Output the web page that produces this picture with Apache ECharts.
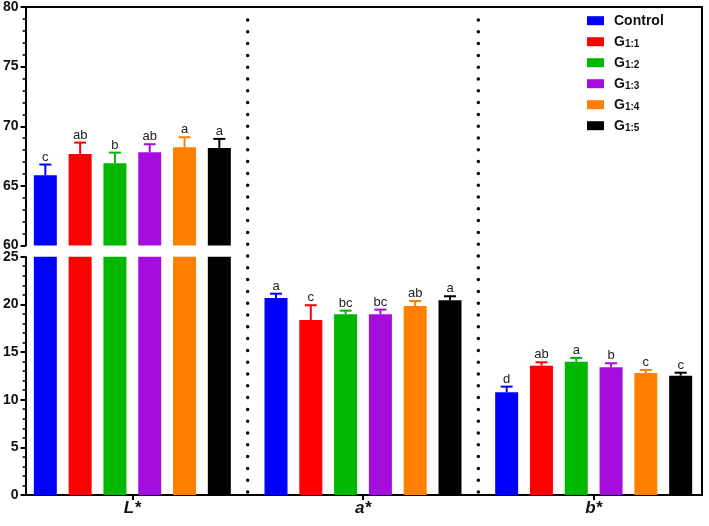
<!DOCTYPE html>
<html><head><meta charset="utf-8">
<script src="https://cdn.jsdelivr.net/npm/echarts@6/dist/echarts.min.js"></script>
<style>html,body{margin:0;padding:0;background:#fff}#c{width:709px;height:526px}</style>
</head><body><div id="c"></div>
<script>
// ---- data ----
const categories = ['L*', 'a*', 'b*'];
const seriesNames = ['Control', 'G1:1', 'G1:2', 'G1:3', 'G1:4', 'G1:5'];

const controlMean = [65.89, 20.67, 10.78];
const g11Mean = [67.68, 18.36, 13.57];
const g12Mean = [66.90, 18.96, 13.99];
const g13Mean = [67.82, 18.96, 13.40];
const g14Mean = [68.24, 19.83, 12.80];
const g15Mean = [68.18, 20.43, 12.52];

const controlErr = [0.90, 0.45, 0.59];
const g11Err = [0.95, 1.55, 0.35];
const g12Err = [0.89, 0.38, 0.39];
const g13Err = [0.67, 0.49, 0.42];
const g14Err = [0.84, 0.52, 0.32];
const g15Err = [0.76, 0.42, 0.31];

const controlLetters = ['c', 'a', 'd'];
const g11Letters = ['ab', 'c', 'ab'];
const g12Letters = ['b', 'bc', 'a'];
const g13Letters = ['ab', 'bc', 'b'];
const g14Letters = ['a', 'ab', 'c'];
const g15Letters = ['a', 'a', 'c'];

const upperRange = [60, 80];   // upper (broken) axis segment
const lowerRange = [0, 25];    // lower axis segment
const tickStep = 5;
const dividerPositions = [1, 2]; // category boundaries

// ---- assembly ----
const means = [controlMean, g11Mean, g12Mean, g13Mean, g14Mean, g15Mean];
const errs = [controlErr, g11Err, g12Err, g13Err, g14Err, g15Err];
const letters = [controlLetters, g11Letters, g12Letters, g13Letters, g14Letters, g15Letters];
const colors = ['#0000FF', '#FF0000', '#00B800', '#A40DDB', '#FF8000', '#000000'];

const FONT = 'Arial, "Liberation Sans", sans-serif';
const BAR_W = 23, GAP = 0.513, PITCH = BAR_W * (1 + GAP);

const chart = echarts.init(document.getElementById('c'), null, { renderer: 'canvas' });

function visibleValueAxis(gridIndex, range) {
  return {
    type: 'value', gridIndex, min: range[0], max: range[1], interval: tickStep,
    axisLine: { show: true, lineStyle: { color: '#000', width: 2 } },
    axisTick: { show: true, length: 5, lineStyle: { color: '#000', width: 2 } },
    minorTick: { show: true, splitNumber: 5, length: 3, lineStyle: { color: '#000', width: 1.5 } },
    axisLabel: { fontFamily: FONT, fontWeight: 'bold', fontSize: 14, color: '#111', margin: 7 },
    splitLine: { show: false }
  };
}
function hiddenValueAxis(gridIndex, range) {
  return { type: 'value', gridIndex, min: range[0], max: range[1], show: false, splitLine: { show: false } };
}

function errorSeries(axisIdx, range) {
  const data = [];
  means.forEach((arr, si) => arr.forEach((v, ci) => data.push([ci, v, errs[si][ci], si])));
  return {
    type: 'custom', xAxisIndex: axisIdx, yAxisIndex: axisIdx, z: 5, silent: true,
    data,
    renderItem(params, api) {
      const ci = api.value(0), v = api.value(1), e = api.value(2), si = api.value(3);
      if (v < range[0] || v + e > range[1]) return null;
      const base = api.coord([ci, v]);
      const top = api.coord([ci, v + e]);
      const x = base[0] + (si - 2.5) * PITCH;
      return {
        type: 'group',
        children: [
          { type: 'line', shape: { x1: x, y1: base[1], x2: x, y2: top[1] }, style: { stroke: colors[si], lineWidth: 2 } },
          { type: 'line', shape: { x1: x - 6, y1: top[1], x2: x + 6, y2: top[1] }, style: { stroke: colors[si], lineWidth: 2 } },
          { type: 'text', x: x, y: top[1] - 1, style: { text: letters[si][ci], align: 'center', verticalAlign: 'bottom', fontSize: 13, fontFamily: FONT, fill: '#222' } }
        ]
      };
    }
  };
}

const series = [];
[0, 1].forEach(ai => {
  seriesNames.forEach((name, si) => {
    series.push({
      type: 'bar', name, xAxisIndex: ai, yAxisIndex: ai,
      data: means[si], barWidth: BAR_W, barGap: (GAP * 100) + '%',
      itemStyle: { color: colors[si] }, clip: true, silent: true
    });
  });
});
series.push(errorSeries(0, upperRange));
series.push(errorSeries(1, lowerRange));
series.push({
  type: 'custom', xAxisIndex: 4, yAxisIndex: 3, silent: true, z: 1,
  data: dividerPositions.map(p => [p, 0]),
  renderItem(params, api) {
    const x = api.coord([api.value(0), 0])[0];
    const cs = params.coordSys;
    return {
      type: 'line',
      shape: { x1: x, y1: cs.y + cs.height - 3, x2: x, y2: cs.y + 4 },
      style: { stroke: '#000', lineWidth: 3.5, lineDash: [0, 11.8], lineCap: 'round' }
    };
  }
});

const hiddenCat = gi => ({ type: 'category', gridIndex: gi, data: categories, show: false });
const frameLine = { show: true, onZero: false, lineStyle: { color: '#000', width: 2 } };

const option = {
  animation: false,
  backgroundColor: '#fff',
  grid: [
    { left: 17, width: 695, top: 7, height: 238.5 },     // 0 upper bars
    { left: 17, width: 695, top: 256.7, height: 238.3 }, // 1 lower bars
    { left: 23, right: 7, top: 7, bottom: 31 },          // 2 frame
    { left: 17, width: 695, top: 7, bottom: 31 },        // 3 dividers
    { left: 23, right: 7, top: 7, height: 238.5 },       // 4 upper y axis
    { left: 23, right: 7, top: 256.7, height: 238.3 }    // 5 lower y axis
  ],
  xAxis: [
    { type: 'category', gridIndex: 0, data: categories, show: false },
    { type: 'category', gridIndex: 1, data: categories,
      axisLine: { show: false },
      axisTick: { show: true, alignWithLabel: true, length: 5, lineStyle: { color: '#000', width: 2 } },
      axisLabel: { fontFamily: FONT, fontWeight: 'bold', fontStyle: 'italic', fontSize: 17, color: '#111', margin: 5 } },
    { type: 'value', gridIndex: 2, position: 'top', min: 0, max: 1,
      axisLine: frameLine, axisTick: { show: false }, axisLabel: { show: false }, splitLine: { show: false } },
    { type: 'value', gridIndex: 2, position: 'bottom', min: 0, max: 1,
      axisLine: frameLine, axisTick: { show: false }, axisLabel: { show: false }, splitLine: { show: false } },
    { type: 'value', gridIndex: 3, min: 0, max: categories.length, show: false },
    hiddenCat(4),
    hiddenCat(5)
  ],
  yAxis: [
    hiddenValueAxis(0, upperRange),
    hiddenValueAxis(1, lowerRange),
    { type: 'value', gridIndex: 2, position: 'right', min: 0, max: 1,
      axisLine: frameLine, axisTick: { show: false }, axisLabel: { show: false }, splitLine: { show: false } },
    { type: 'value', gridIndex: 3, min: 0, max: 1, show: false },
    visibleValueAxis(4, upperRange),
    visibleValueAxis(5, lowerRange)
  ],
  legend: {
    orient: 'vertical', left: 582, top: 7.7,
    data: seriesNames,
    icon: 'rect', itemWidth: 17, itemHeight: 9, itemGap: 5,
    selectedMode: false,
    formatter: name => name === 'Control' ? name : 'G{s|' + name.slice(1) + '}',
    textStyle: {
      fontFamily: FONT, fontWeight: 'bold', fontSize: 14, color: '#111', lineHeight: 16,
      padding: [0, 0, 0, 5],
      rich: { s: { fontFamily: FONT, fontWeight: 'bold', fontSize: 10, color: '#111', lineHeight: 6, verticalAlign: 'bottom' } }
    }
  },
  series
};
chart.setOption(option);
</script>
</body></html>
